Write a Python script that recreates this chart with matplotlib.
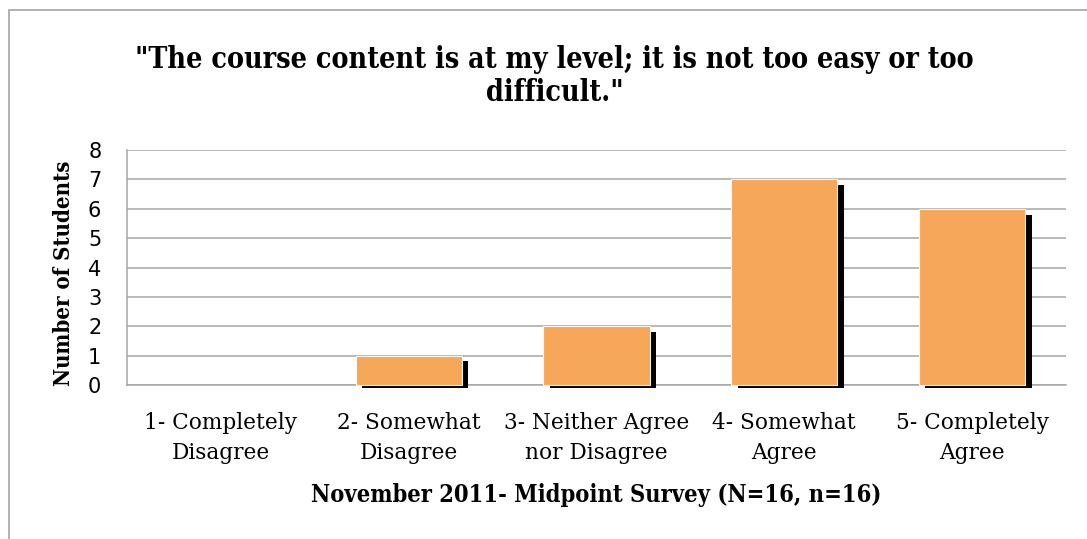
import matplotlib
matplotlib.use("Agg")
import matplotlib.pyplot as plt
import matplotlib.patheffects as pe
from matplotlib.patches import Rectangle
from matplotlib.transforms import Bbox, TransformedBbox
import numpy as np

categories = ["1- Completely\nDisagree", "2- Somewhat\nDisagree", "3- Neither Agree\nnor Disagree",
              "4- Somewhat\nAgree", "5- Completely\nAgree"]
values = [0, 1, 2, 7, 6]
yticks = [0, 1, 2, 3, 4, 5, 6, 7, 8]
title_lines = ["\"The course content is at my level; it is not too easy or too", "difficult.\""]
xlabel = "November 2011- Midpoint Survey (N=16, n=16)"
ylabel = "Number of Students"

W, H = 1087, 539
fig = plt.figure(figsize=(W / 100, H / 100), dpi=100)
fig.patch.set_facecolor("white")
renderer = fig.canvas.get_renderer()

def fit_w(t, target):
    w = t.get_window_extent(renderer).width
    t.set_fontsize(t.get_fontsize() * target / w)

def fit_h(t, target):
    h = t.get_window_extent(renderer).height
    t.set_fontsize(t.get_fontsize() * target / h)

# outer chart frame
fig.patches.append(Rectangle((9 / W, -0.05), 1.2, 1 - 9.5 / H + 0.05, transform=fig.transFigure,
                             fill=False, edgecolor="#a6a6a6", linewidth=1.2, figure=fig))

ax = fig.add_axes([127 / W, 1 - 385 / H, (1066 - 127) / W, (385 - 150) / H])
x = np.arange(len(categories))
bars = ax.bar(x, values, width=0.565, color="#F7A75A", edgecolor="#fff6ea", linewidth=0.8, zorder=3)
clip = TransformedBbox(Bbox.from_bounds(0, -2.5 / 235, 1, 1 + 2.5 / 235), ax.transAxes)
for b, v in zip(bars, values):
    if v == 0:
        b.set_visible(False)
        continue
    b.set_clip_box(clip)
    b.set_path_effects([pe.SimplePatchShadow(offset=(4.6, -4.2), shadow_rgbFace="black", alpha=1.0),
                        pe.Normal()])

ax.set_xlim(-0.5, len(categories) - 0.5)
ax.set_ylim(0, 8)
ax.set_yticks(yticks)
ax.set_yticklabels([str(t) for t in yticks], fontfamily="DejaVu Sans", fontsize=15)
ax.set_xticks(x)
xtl = ax.set_xticklabels(categories, fontfamily="DejaVu Serif", fontsize=15, linespacing=1.48)
ax.tick_params(axis="y", length=0, pad=18.5)
ax.tick_params(axis="x", length=0, pad=19.5)
ax.grid(axis="y", color="#a6a6a6", linewidth=1.1, zorder=0)
for s in ["top", "right"]:
    ax.spines[s].set_visible(False)
for s in ["left", "bottom"]:
    ax.spines[s].set_color("#a6a6a6")
    ax.spines[s].set_linewidth(1.1)

# fit tick label size by the widest label
w = xtl[2].get_window_extent(renderer).width
fs = 15 * 185 / w
for t in xtl:
    t.set_fontsize(fs)

xl = fig.text(596 / W, 1 - 502 / H, xlabel, ha="center", va="baseline", fontfamily="DejaVu Serif",
              fontweight="bold", fontstretch="condensed", fontsize=14)
fit_w(xl, 574)
yl = fig.text(64 / W, 1 - 273 / H, ylabel, ha="center", va="center", rotation=90,
              fontfamily="DejaVu Serif", fontweight="bold", fontstretch="condensed", fontsize=14)
fit_h(yl, 227)

t1 = fig.text(554 / W, 1 - 68 / H, title_lines[0], ha="center", va="baseline", fontfamily="DejaVu Serif",
              fontweight="bold", fontstretch="condensed", fontsize=18)
fit_w(t1, 838)
t2 = fig.text(555 / W, 1 - 101 / H, title_lines[1], ha="center", va="baseline", fontfamily="DejaVu Serif",
              fontweight="bold", fontstretch="condensed", fontsize=t1.get_fontsize())

fig.savefig("out.png", dpi=100, facecolor="white")
